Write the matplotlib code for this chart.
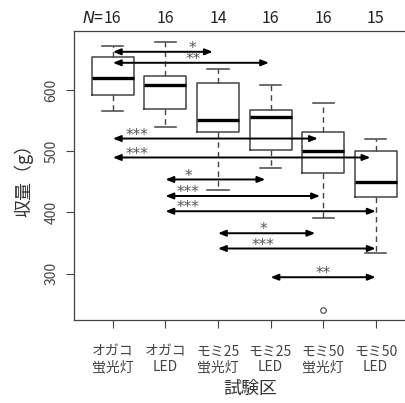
import matplotlib
matplotlib.use('Agg')
import matplotlib.pyplot as plt

plt.rcParams['font.family'] = ['Noto Sans CJK JP', 'DejaVu Sans']

groups = ['オガコ\n蛍光灯', 'オガコ\nLED', 'モミ25\n蛍光灯', 'モミ25\nLED', 'モミ50\n蛍光灯', 'モミ50\nLED']
n_counts = [16, 16, 14, 16, 16, 15]
# whisker low, Q1, median, Q3, whisker high
wlo = [566, 540, 436, 473, 391, 333]
q1 = [593, 569, 531, 503, 464, 426]
med = [620, 608, 552, 557, 501, 450]
q3 = [654, 624, 612, 567, 532, 501]
whi = [672, 679, 635, 608, 580, 520]
outliers = [[], [], [], [], [240], []]

# significance arrows: start group, end x, y, label, label x
arr_start = [1, 1, 1, 1, 2, 2, 2, 3, 3, 4]
arr_end = [2.9, 3.97, 4.9, 5.9, 3.9, 4.94, 6.0, 4.85, 6.0, 6.0]
arr_y = [663, 645, 521, 490, 454, 427, 402, 366, 341, 294]
arr_label = ['*', '**', '***', '***', '*', '***', '***', '*', '***', '**']
arr_label_x = [2.52, 2.52, 1.46, 1.46, 2.43, 2.43, 2.43, 3.86, 3.86, 5.0]

fig = plt.figure(figsize=(4.06, 4.03), dpi=100)
ax = fig.add_axes([0.182, 0.206, 0.87, 0.717])

stats = []
for i in range(len(groups)):
    stats.append(dict(whislo=wlo[i], q1=q1[i], med=med[i], q3=q3[i],
                      whishi=whi[i], fliers=outliers[i]))

pos = list(range(1, len(groups) + 1))
ax.bxp(stats, positions=pos, widths=0.8, showfliers=True,
       boxprops=dict(color='#444444', lw=1.1),
       medianprops=dict(color='black', lw=2.4),
       whiskerprops=dict(color='#444444', lw=1.0, linestyle=(0, (4, 3))),
       capprops=dict(color='#444444', lw=1.1),
       flierprops=dict(marker='o', markersize=4, markerfacecolor='none',
                       markeredgecolor='#444444', markeredgewidth=0.8))
ax.set_xlim(0.257, 6.98)
ax.set_ylim(224, 697)

for s, e, y, lab, lx in zip(arr_start, arr_end, arr_y, arr_label, arr_label_x):
    ax.annotate('', xy=(e, y), xytext=(s, y),
                arrowprops=dict(arrowstyle='<|-|>,head_length=0.45,head_width=0.18',
                                color='black', lw=1.4, shrinkA=0, shrinkB=0))
    ax.annotate(lab, xy=(lx, y), xytext=(0, -0.8), textcoords='offset points',
                ha='center', va='baseline', fontsize=11, color='#555555',
                family='DejaVu Sans')

# N labels on top
for p, n in zip(pos, n_counts):
    ax.text(p, 1.015, str(n), transform=ax.get_xaxis_transform(),
            ha='center', va='bottom', fontsize=11.5, color='#222222')
ax.annotate('$N$=', xy=(1, 1.015), xycoords=ax.get_xaxis_transform(),
            xytext=(-6.5, 0), textcoords='offset points',
            ha='right', va='bottom', fontsize=11.5, color='#222222')

ax.set_yticks([300, 400, 500, 600])
ax.set_xticks(pos)
ax.set_xticklabels(groups, fontsize=10, color='#444444', linespacing=1.1)
for t in ax.get_yticklabels():
    t.set_rotation(90)
    t.set_va('center')
    t.set_fontsize(10)
    t.set_color('#444444')
ax.tick_params(axis='both', length=6, color='#444444', width=0.8)
ax.tick_params(axis='x', pad=12)
ax.tick_params(axis='y', pad=5)
for sp in ax.spines.values():
    sp.set_color('#444444')
    sp.set_linewidth(0.9)

ax.set_xlabel('試験区', fontsize=13, color='#333333', labelpad=4)
ax.set_ylabel('収量（g）', fontsize=13, color='#333333', labelpad=8)

fig.savefig('out.png', dpi=100)
